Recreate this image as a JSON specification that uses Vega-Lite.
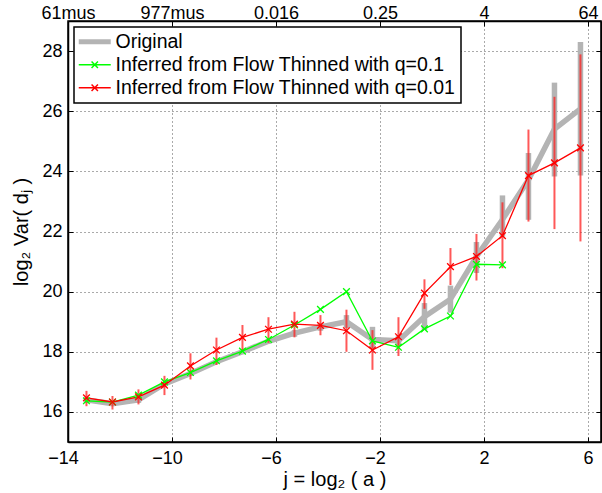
{
  "$schema": "https://vega.github.io/schema/vega-lite/v6.json",
  "width": 533,
  "height": 421,
  "autosize": {"type": "none"},
  "padding": {"left": 68, "top": 21, "right": 1, "bottom": 51},
  "background": "white",
  "config": {
    "font": "Liberation Sans",
    "view": {"stroke": "black", "strokeWidth": 1.5},
    "axis": {
      "domainColor": "black",
      "domainWidth": 1.5,
      "tickColor": "black",
      "tickWidth": 1,
      "tickSize": -5,
      "labelColor": "black",
      "labelFontSize": 18,
      "labelFont": "Liberation Sans",
      "titleFont": "Liberation Sans",
      "titleFontSize": 20,
      "titleFontWeight": "normal",
      "titleColor": "black",
      "gridColor": "#555555",
      "gridDash": [1, 3],
      "gridWidth": 1,
      "labelFlush": false,
      "labelOverlap": false
    },
    "legend": {
      "orient": "none",
      "legendX": 6,
      "legendY": 6,
      "labelFontSize": 19.5,
      "labelFont": "Liberation Sans",
      "labelColor": "black",
      "labelLimit": 600,
      "symbolSize": 1024,
      "fillColor": "white",
      "strokeColor": "black",
      "padding": 5,
      "rowPadding": 2,
      "labelOffset": 11,
      "symbolOffset": 6
    }
  },
  "data": {
    "values": [
      {"s": "Original", "j": -13.29, "v": 16.4, "lo": 16.3, "hi": 16.5},
      {"s": "Original", "j": -12.29, "v": 16.27, "lo": 16.2, "hi": 16.35},
      {"s": "Original", "j": -11.29, "v": 16.4, "lo": 16.3, "hi": 16.5},
      {"s": "Original", "j": -10.29, "v": 16.93, "lo": 16.85, "hi": 17.0},
      {"s": "Original", "j": -9.29, "v": 17.28, "lo": 17.2, "hi": 17.36},
      {"s": "Original", "j": -8.29, "v": 17.67, "lo": 17.6, "hi": 17.75},
      {"s": "Original", "j": -7.29, "v": 18.0, "lo": 17.92, "hi": 18.08},
      {"s": "Original", "j": -6.29, "v": 18.35, "lo": 18.27, "hi": 18.43},
      {"s": "Original", "j": -5.29, "v": 18.62, "lo": 18.5, "hi": 18.72},
      {"s": "Original", "j": -4.29, "v": 18.83, "lo": 18.7, "hi": 18.95},
      {"s": "Original", "j": -3.29, "v": 19.0, "lo": 18.79, "hi": 19.22},
      {"s": "Original", "j": -2.29, "v": 18.41, "lo": 18.11, "hi": 18.83},
      {"s": "Original", "j": -1.29, "v": 18.37, "lo": 18.2, "hi": 18.55},
      {"s": "Original", "j": -0.29, "v": 19.17, "lo": 18.72, "hi": 19.62},
      {"s": "Original", "j": 0.71, "v": 19.75, "lo": 19.3, "hi": 20.2},
      {"s": "Original", "j": 1.71, "v": 21.17, "lo": 20.62, "hi": 21.65},
      {"s": "Original", "j": 2.71, "v": 22.4, "lo": 21.83, "hi": 23.2},
      {"s": "Original", "j": 3.71, "v": 23.72, "lo": 22.39, "hi": 24.61},
      {"s": "Original", "j": 4.71, "v": 25.41, "lo": 23.83, "hi": 26.95},
      {"s": "Original", "j": 5.71, "v": 26.08, "lo": 23.86, "hi": 28.3},
      {"s": "Inferred from Flow Thinned with q=0.1", "j": -13.29, "v": 16.37},
      {"s": "Inferred from Flow Thinned with q=0.1", "j": -12.29, "v": 16.33},
      {"s": "Inferred from Flow Thinned with q=0.1", "j": -11.29, "v": 16.56},
      {"s": "Inferred from Flow Thinned with q=0.1", "j": -10.29, "v": 17.0},
      {"s": "Inferred from Flow Thinned with q=0.1", "j": -9.29, "v": 17.31},
      {"s": "Inferred from Flow Thinned with q=0.1", "j": -8.29, "v": 17.7},
      {"s": "Inferred from Flow Thinned with q=0.1", "j": -7.29, "v": 18.02},
      {"s": "Inferred from Flow Thinned with q=0.1", "j": -6.29, "v": 18.41},
      {"s": "Inferred from Flow Thinned with q=0.1", "j": -5.29, "v": 18.89},
      {"s": "Inferred from Flow Thinned with q=0.1", "j": -4.29, "v": 19.41},
      {"s": "Inferred from Flow Thinned with q=0.1", "j": -3.29, "v": 20.0},
      {"s": "Inferred from Flow Thinned with q=0.1", "j": -2.29, "v": 18.36},
      {"s": "Inferred from Flow Thinned with q=0.1", "j": -1.29, "v": 18.15},
      {"s": "Inferred from Flow Thinned with q=0.1", "j": -0.29, "v": 18.76},
      {"s": "Inferred from Flow Thinned with q=0.1", "j": 0.71, "v": 19.19},
      {"s": "Inferred from Flow Thinned with q=0.1", "j": 1.71, "v": 20.91},
      {"s": "Inferred from Flow Thinned with q=0.1", "j": 2.71, "v": 20.89},
      {"s": "Inferred from Flow Thinned with q=0.01", "j": -13.29, "v": 16.47, "lo": 16.19, "hi": 16.7},
      {"s": "Inferred from Flow Thinned with q=0.01", "j": -12.29, "v": 16.33, "lo": 16.08, "hi": 16.53},
      {"s": "Inferred from Flow Thinned with q=0.01", "j": -11.29, "v": 16.5, "lo": 16.25, "hi": 16.75},
      {"s": "Inferred from Flow Thinned with q=0.01", "j": -10.29, "v": 16.89, "lo": 16.56, "hi": 17.2},
      {"s": "Inferred from Flow Thinned with q=0.01", "j": -9.29, "v": 17.53, "lo": 17.08, "hi": 17.95},
      {"s": "Inferred from Flow Thinned with q=0.01", "j": -8.29, "v": 18.06, "lo": 17.56, "hi": 18.47},
      {"s": "Inferred from Flow Thinned with q=0.01", "j": -7.29, "v": 18.48, "lo": 18.06, "hi": 18.89},
      {"s": "Inferred from Flow Thinned with q=0.01", "j": -6.29, "v": 18.75, "lo": 18.3, "hi": 19.15},
      {"s": "Inferred from Flow Thinned with q=0.01", "j": -5.29, "v": 18.92, "lo": 18.48, "hi": 19.33},
      {"s": "Inferred from Flow Thinned with q=0.01", "j": -4.29, "v": 18.88, "lo": 18.55, "hi": 19.22},
      {"s": "Inferred from Flow Thinned with q=0.01", "j": -3.29, "v": 18.7, "lo": 18.0, "hi": 19.4},
      {"s": "Inferred from Flow Thinned with q=0.01", "j": -2.29, "v": 18.06, "lo": 17.4, "hi": 18.72},
      {"s": "Inferred from Flow Thinned with q=0.01", "j": -1.29, "v": 18.5, "lo": 17.86, "hi": 19.15},
      {"s": "Inferred from Flow Thinned with q=0.01", "j": -0.29, "v": 19.95, "lo": 19.43, "hi": 20.41},
      {"s": "Inferred from Flow Thinned with q=0.01", "j": 0.71, "v": 20.83, "lo": 20.22, "hi": 21.45},
      {"s": "Inferred from Flow Thinned with q=0.01", "j": 1.71, "v": 21.17, "lo": 20.37, "hi": 21.92},
      {"s": "Inferred from Flow Thinned with q=0.01", "j": 2.71, "v": 21.86, "lo": 20.78, "hi": 22.97},
      {"s": "Inferred from Flow Thinned with q=0.01", "j": 3.71, "v": 23.86, "lo": 22.33, "hi": 25.39},
      {"s": "Inferred from Flow Thinned with q=0.01", "j": 4.71, "v": 24.28, "lo": 22.08, "hi": 26.48},
      {"s": "Inferred from Flow Thinned with q=0.01", "j": 5.71, "v": 24.78, "lo": 21.67, "hi": 27.89}
    ]
  },
  "resolve": {"axis": {"x": "independent", "y": "independent"}},
  "layer": [
    {
      "transform": [{"filter": "datum.s === 'Original'"}],
      "mark": {"type": "rule", "color": "#b4b4b4", "strokeWidth": 5.5},
      "encoding": {
        "x": {
          "field": "j", "type": "quantitative",
          "scale": {"domain": [-14, 6.5], "nice": false, "zero": false},
          "axis": {
            "orient": "bottom", "values": [-14, -10, -6, -2, 2, 6],
            "grid": true, "labelPadding": 12,
            "labelOffset": {"condition": {"test": "datum.value < 0", "value": -5}, "value": 0},
            "title": "j = log₂ ( a )", "titleBaseline": "alphabetic", "titleY": 43
          }
        },
        "y": {
          "field": "lo", "type": "quantitative",
          "scale": {"domain": [15, 29], "nice": false, "zero": false},
          "axis": {
            "orient": "left", "values": [16, 18, 20, 22, 24, 26, 28],
            "grid": true, "labelPadding": 11,
            "title": "log₂ Var( dⱼ )", "titleBaseline": "alphabetic", "titleX": -41
          }
        },
        "y2": {"field": "hi"}
      }
    },
    {
      "transform": [{"filter": "datum.s === 'Original'"}],
      "mark": {"type": "line", "strokeWidth": 5.5, "strokeJoin": "miter"},
      "encoding": {
        "x": {
          "field": "j", "type": "quantitative",
          "axis": {
            "orient": "top", "values": [-14, -10, -6, -2, 2, 6],
            "grid": false, "labelPadding": 4, "title": null,
            "labelExpr": "datum.value == -14 ? '61mus' : datum.value == -10 ? '977mus' : datum.value == -6 ? '0.016' : datum.value == -2 ? '0.25' : datum.value == 2 ? '4' : '64'"
          }
        },
        "y": {
          "field": "v", "type": "quantitative",
          "axis": {
            "orient": "right", "values": [16, 18, 20, 22, 24, 26, 28],
            "grid": false, "labels": false, "title": null
          }
        },
        "color": {
          "field": "s", "type": "nominal",
          "scale": {
            "domain": ["Original", "Inferred from Flow Thinned with q=0.1", "Inferred from Flow Thinned with q=0.01"],
            "range": ["#b4b4b4", "#00ff00", "#ff0000"]
          },
          "legend": {
            "title": null,
            "encode": {
              "symbols": {
                "update": {
                  "shape": {"signal": "datum.value === 'Original' ? 'stroke' : 'M-1,0H1M-0.2,-0.2L0.2,0.2M-0.2,0.2L0.2,-0.2'"},
                  "strokeWidth": {"signal": "datum.value === 'Original' ? 5 : 1.5"},
                  "fill": {"value": "transparent"},
                  "opacity": {"value": 1}
                }
              },
              "legend": {"update": {"strokeWidth": {"value": 1.5}}}
            }
          }
        }
      }
    },
    {
      "transform": [{"filter": "datum.s === 'Inferred from Flow Thinned with q=0.01'"}],
      "mark": {"type": "rule", "color": "#ff2020", "opacity": 0.75, "strokeWidth": 2},
      "encoding": {
        "x": {"field": "j", "type": "quantitative", "axis": null},
        "y": {"field": "lo", "type": "quantitative", "axis": null},
        "y2": {"field": "hi"}
      }
    },
    {
      "transform": [{"filter": "datum.s !== 'Original'"}],
      "mark": {"type": "line", "strokeWidth": 1.3},
      "encoding": {
        "x": {"field": "j", "type": "quantitative", "axis": null},
        "y": {"field": "v", "type": "quantitative", "axis": null},
        "color": {"field": "s", "type": "nominal", "legend": null},
        "detail": {"field": "s"}
      }
    },
    {
      "transform": [{"filter": "datum.s !== 'Original'"}],
      "mark": {"type": "point", "shape": "M-1,-1L1,1M-1,1L1,-1", "filled": false, "size": 45, "strokeWidth": 1.3, "opacity": 1},
      "encoding": {
        "x": {"field": "j", "type": "quantitative", "axis": null},
        "y": {"field": "v", "type": "quantitative", "axis": null},
        "color": {"field": "s", "type": "nominal", "legend": null}
      }
    }
  ]
}
